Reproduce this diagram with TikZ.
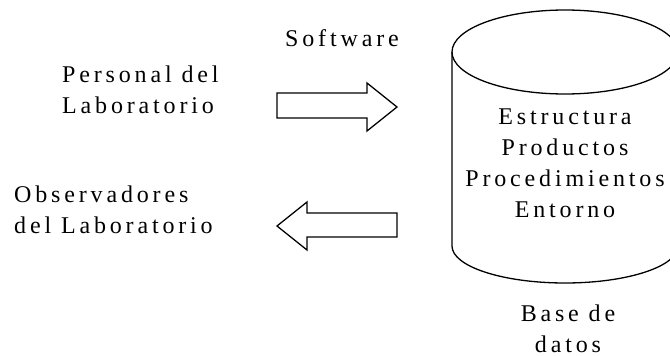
\documentclass[tikz,border=0pt]{standalone}
\usepackage{fontspec}
\setmainfont[LetterSpace=16]{Liberation Serif}
\begin{document}
\begin{tikzpicture}[x=1pt,y=1pt,
  outline/.style={draw=black, line width=1.3pt, line join=miter},
  lbl/.style={font=\fontsize{24}{31}\selectfont, inner sep=0pt, text=black}]
\useasboundingbox (0,-356) rectangle (670,0);
\clip (0,-356) rectangle (670,0);

% database cylinder (right side runs past the edge)
\coordinate (dbtop) at (565,-52);
\draw[outline] (452,-52) -- (452,-246)
  arc[start angle=180, end angle=360, x radius=113, y radius=37] -- (678,-52);
\draw[outline] (dbtop) ellipse [x radius=113, y radius=42];

% multi-line nodes: base sits on the last line
\node[lbl, align=center, anchor=base] (db) at (565,-217)
  {Estructura\\Productos\\Procedimientos\\Entorno};
\node[lbl, align=center, anchor=base] (dbname) at (568,-352) {Base de\\datos};

% labels
\node[lbl, anchor=base] (sw) at (342,-46) {Software};
\node[lbl, align=left, anchor=base west] (pers) at (62,-113) {Personal del\\Laboratorio};
\node[lbl, align=left, anchor=base west] (obs) at (14,-233) {Observadores\\del Laboratorio};

% block arrow into the database
\draw[outline] (277,-93) -- (367,-93) -- (367,-83) -- (397,-107)
  -- (367,-131) -- (367,-118) -- (277,-118) -- cycle;
% block arrow out of the database
\draw[outline] (397,-213) -- (307,-213) -- (307,-202) -- (277,-226)
  -- (307,-250) -- (307,-237) -- (397,-237) -- cycle;
\end{tikzpicture}
\end{document}
